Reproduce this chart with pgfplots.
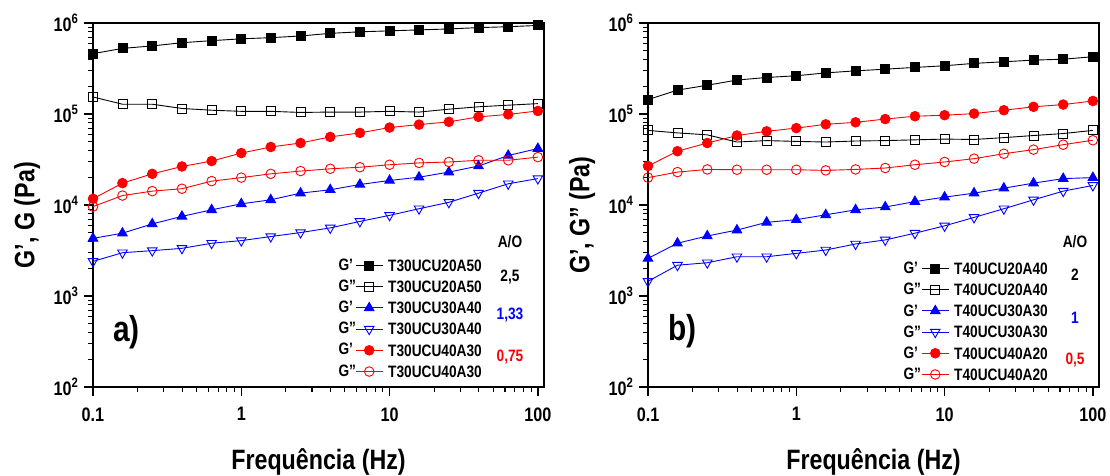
\documentclass[border=0pt]{standalone}
\usepackage{fontspec}
\setmainfont[FakeStretch=0.83]{Liberation Sans}
\usepackage{pgfplots}
\usepackage{pgfplotstable}
\pgfplotsset{compat=1.18}

\newcommand{\ap}{\symbol{39}}
\newcommand{\dq}{\symbol{34}}

% panel a): T30 series, G' and G'' for the three A/O ratios
\pgfplotstableread{
f     a1     a2     a3     a4     a5     a6
0.1   4.6e5  1.54e5 4.3e3  2.4e3  1.17e4 9.6e3
0.158 5.26e5 1.28e5 4.9e3  2.99e3 1.74e4 1.27e4
0.251 5.6e5  1.28e5 6.2e3  3.15e3 2.2e4  1.42e4
0.398 6.07e5 1.15e5 7.5e3  3.34e3 2.65e4 1.51e4
0.631 6.4e5  1.1e5  8.85e3 3.8e3  3.04e4 1.83e4
1     6.7e5  1.07e5 1.03e4 4.06e3 3.72e4 2.0e4
1.58  6.9e5  1.07e5 1.14e4 4.5e3  4.34e4 2.2e4
2.51  7.2e5  1.04e5 1.35e4 4.98e3 4.8e4  2.36e4
3.98  7.7e5  1.05e5 1.47e4 5.6e3  5.6e4  2.5e4
6.31  8.0e5  1.05e5 1.68e4 6.6e3  6.2e4  2.6e4
10    8.2e5  1.07e5 1.86e4 7.7e3  7.1e4  2.77e4
15.8  8.4e5  1.05e5 2.02e4 9.1e3  7.65e4 2.9e4
25.1  8.6e5  1.13e5 2.3e4  1.07e4 8.2e4  2.97e4
39.8  8.9e5  1.2e5  2.68e4 1.35e4 9.3e4  3.1e4
63.1  9.1e5  1.25e5 3.5e4  1.71e4 9.9e4  3.1e4
100   9.4e5  1.3e5  4.17e4 1.95e4 1.08e5 3.36e4
}\tabA

% panel b): T40 series
\pgfplotstableread{
f     b1     b2     b3     b4     b5     b6
0.1   1.44e5 6.6e4  2.59e3 1.45e3 2.68e4 2.0e4
0.158 1.83e5 6.2e4  3.8e3  2.18e3 3.9e4  2.3e4
0.251 2.07e5 5.9e4  4.57e3 2.32e3 4.8e4  2.46e4
0.398 2.36e5 4.92e4 5.3e3  2.7e3  5.8e4  2.44e4
0.631 2.52e5 5.1e4  6.45e3 2.7e3  6.45e4 2.44e4
1     2.63e5 5.0e4  6.9e3  2.94e3 7.0e4  2.44e4
1.58  2.83e5 4.92e4 7.8e3  3.2e3  7.7e4  2.4e4
2.51  2.98e5 5.05e4 8.85e3 3.73e3 8.1e4  2.46e4
3.98  3.11e5 5.1e4  9.5e3  4.13e3 8.8e4  2.55e4
6.31  3.25e5 5.2e4  1.09e4 4.9e3  9.45e4 2.77e4
10    3.39e5 5.3e4  1.22e4 5.9e3  9.7e4  2.97e4
15.8  3.6e5  5.25e4 1.35e4 7.3e3  1.01e5 3.23e4
25.1  3.75e5 5.5e4  1.53e4 9.1e3  1.1e5  3.66e4
39.8  3.91e5 5.8e4  1.74e4 1.14e4 1.2e5  4.06e4
63.1  4.0e5  6.1e4  1.95e4 1.42e4 1.27e5 4.6e4
100   4.26e5 6.6e4  2.0e4  1.64e4 1.39e5 5.15e4
}\tabB

\newcommand{\sm}{\fontsize{16.5}{17}\selectfont\bfseries}

\begin{document}
\begin{tikzpicture}[font=\bfseries]
\useasboundingbox (0,0) rectangle (1110pt,476pt);

\begin{loglogaxis}[at={(93pt,89pt)}, anchor=south west,
    scale only axis, width=451pt, height=364pt,
    xmin=0.1, xmax=110, ymin=1e2, ymax=1e6,
    xtick={0.1,1,10,100}, xticklabels={0.1,1,10,100},
    ytick={1e2,1e3,1e4,1e5,1e6},
    yticklabels={10\textsuperscript{2},10\textsuperscript{3},10\textsuperscript{4},10\textsuperscript{5},10\textsuperscript{6}},
    tick pos=left, tick align=outside,
    major tick length=9pt, minor tick length=5pt,
    axis line style={line width=2pt},
    tick style={black, line width=1.5pt},
    minor tick style={line width=1.1pt},
    xticklabel style={font=\fontsize{19.5}{20}\selectfont\bfseries, yshift=-8pt},
    yticklabel style={font=\fontsize{19.5}{20}\selectfont\bfseries, xshift=-2pt},
    xlabel style={font=\fontsize{28}{30}\selectfont\bfseries, at={(axis description cs:0.5,-0.2253)}, anchor=base},
    ylabel style={font=\fontsize{28}{30}\selectfont\bfseries, at={(axis description cs:-0.146,0.472)}, anchor=center},
    xlabel={Frequência (Hz)},
    ylabel={G\ap, G (Pa)},
    legend cell align=left,
    legend image code/.code={\draw[mark repeat=2, mark phase=2, #1] plot coordinates {(0pt,0pt) (13.5pt,0pt) (27pt,0pt)};},
    legend style={draw=none, fill=none, inner sep=0pt, row sep=9.7pt, column sep=5pt,
      font=\sm, nodes={inner sep=0pt, text height=11.5pt, text depth=0pt},
      at={(axis description cs:0.8625,0.35)}, anchor=north east}]
\addplot[black, line width=0.9pt, mark=square*, mark size=4.5pt, mark options={solid}] table[x=f, y=a1] {\tabA};
\addlegendentry{T30UCU20A50}
\addplot[black, line width=0.9pt, mark=square, mark size=4.5pt, mark options={solid, fill=white}] table[x=f, y=a2] {\tabA};
\addlegendentry{T30UCU20A50}
\addplot[blue, line width=0.9pt, mark=triangle*, mark size=5.5pt, mark options={solid}] table[x=f, y=a3] {\tabA};
\addlegendentry{T30UCU30A40}
\addplot[blue, line width=0.9pt, mark=triangle, mark size=5.5pt, mark options={solid, rotate=180, fill=white}] table[x=f, y=a4] {\tabA};
\addlegendentry{T30UCU30A40}
\addplot[red, line width=0.9pt, mark=*, mark size=4.8pt, mark options={solid}] table[x=f, y=a5] {\tabA};
\addlegendentry{T30UCU40A30}
\addplot[red, line width=0.9pt, mark=o, mark size=4.8pt, mark options={solid, fill=white}] table[x=f, y=a6] {\tabA};
\addlegendentry{T30UCU40A30}
% G'/G'' prefixes in front of the legend samples
\node[font=\sm, anchor=west] at (axis description cs:0.5366,0.3352) {G\ap};
\node[font=\sm, anchor=west] at (axis description cs:0.5366,0.2775) {G\dq};
\node[font=\sm, anchor=west] at (axis description cs:0.5366,0.2198) {G\ap};
\node[font=\sm, anchor=west] at (axis description cs:0.5366,0.1621) {G\dq};
\node[font=\sm, anchor=west] at (axis description cs:0.5366,0.1044) {G\ap};
\node[font=\sm, anchor=west] at (axis description cs:0.5366,0.0440) {G\dq};
\node[font=\sm] at (axis description cs:0.9246,0.398) {A/O};
\node[font=\sm] at (axis description cs:0.9246,0.302) {2,5};
\node[font=\sm, text=blue] at (axis description cs:0.9246,0.198) {1,33};
\node[font=\sm, text=red] at (axis description cs:0.9246,0.082) {0,75};
\node[font=\fontsize{36}{38}\selectfont\bfseries, anchor=base west, inner sep=0pt]
  at (axis description cs:0.044,0.124) {a)};
\end{loglogaxis}

\begin{loglogaxis}[at={(648pt,89pt)}, anchor=south west,
    scale only axis, width=451pt, height=364pt,
    xmin=0.1, xmax=110, ymin=1e2, ymax=1e6,
    xtick={0.1,1,10,100}, xticklabels={0.1,1,10,100},
    ytick={1e2,1e3,1e4,1e5,1e6},
    yticklabels={10\textsuperscript{2},10\textsuperscript{3},10\textsuperscript{4},10\textsuperscript{5},10\textsuperscript{6}},
    tick pos=left, tick align=outside,
    major tick length=9pt, minor tick length=5pt,
    axis line style={line width=2pt},
    tick style={black, line width=1.5pt},
    minor tick style={line width=1.1pt},
    xticklabel style={font=\fontsize{19.5}{20}\selectfont\bfseries, yshift=-8pt},
    yticklabel style={font=\fontsize{19.5}{20}\selectfont\bfseries, xshift=-2pt},
    xlabel style={font=\fontsize{28}{30}\selectfont\bfseries, at={(axis description cs:0.5,-0.2253)}, anchor=base},
    ylabel style={font=\fontsize{28}{30}\selectfont\bfseries, at={(axis description cs:-0.146,0.472)}, anchor=center},
    xlabel={Frequência (Hz)},
    ylabel={G\ap, G\dq{} (Pa)},
    legend cell align=left,
    legend image code/.code={\draw[mark repeat=2, mark phase=2, #1] plot coordinates {(0pt,0pt) (13.5pt,0pt) (27pt,0pt)};},
    legend style={draw=none, fill=none, inner sep=0pt, row sep=9.7pt, column sep=5pt,
      font=\sm, nodes={inner sep=0pt, text height=11.5pt, text depth=0pt},
      at={(axis description cs:0.887,0.342)}, anchor=north east}]
\addplot[black, line width=0.9pt, mark=square*, mark size=4.5pt, mark options={solid}] table[x=f, y=b1] {\tabB};
\addlegendentry{T40UCU20A40}
\addplot[black, line width=0.9pt, mark=square, mark size=4.5pt, mark options={solid, fill=white}] table[x=f, y=b2] {\tabB};
\addlegendentry{T40UCU20A40}
\addplot[blue, line width=0.9pt, mark=triangle*, mark size=5.5pt, mark options={solid}] table[x=f, y=b3] {\tabB};
\addlegendentry{T40UCU30A30}
\addplot[blue, line width=0.9pt, mark=triangle, mark size=5.5pt, mark options={solid, rotate=180, fill=white}] table[x=f, y=b4] {\tabB};
\addlegendentry{T40UCU30A30}
\addplot[red, line width=0.9pt, mark=*, mark size=4.8pt, mark options={solid}] table[x=f, y=b5] {\tabB};
\addlegendentry{T40UCU40A20}
\addplot[red, line width=0.9pt, mark=o, mark size=4.8pt, mark options={solid, fill=white}] table[x=f, y=b6] {\tabB};
\addlegendentry{T40UCU40A20}
\node[font=\sm, anchor=west] at (axis description cs:0.5588,0.3269) {G\ap};
\node[font=\sm, anchor=west] at (axis description cs:0.5588,0.2692) {G\dq};
\node[font=\sm, anchor=west] at (axis description cs:0.5588,0.2088) {G\ap};
\node[font=\sm, anchor=west] at (axis description cs:0.5588,0.1511) {G\dq};
\node[font=\sm, anchor=west] at (axis description cs:0.5588,0.0934) {G\ap};
\node[font=\sm, anchor=west] at (axis description cs:0.5588,0.0357) {G\dq};
\node[font=\sm] at (axis description cs:0.9468,0.398) {A/O};
\node[font=\sm] at (axis description cs:0.9468,0.308) {2};
\node[font=\sm, text=blue] at (axis description cs:0.9468,0.19) {1};
\node[font=\sm, text=red] at (axis description cs:0.9468,0.074) {0,5};
\node[font=\fontsize{36}{38}\selectfont\bfseries, anchor=base west, inner sep=0pt]
  at (axis description cs:0.044,0.129) {b)};
\end{loglogaxis}
\end{tikzpicture}
\end{document}
